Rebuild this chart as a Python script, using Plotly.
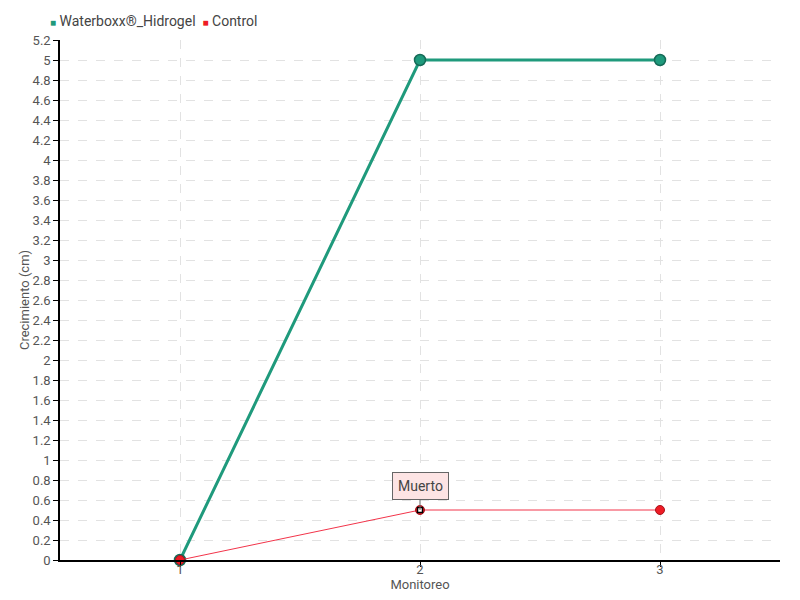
import plotly.graph_objects as go

monitoreo = [1, 2, 3]
hidrogel = [0, 5, 5]
control = [0, 0.5, 0.5]
muerto_idx = 1
series_names = ["Waterboxx®_Hidrogel", "Control"]
y_ticks = [round(i * 0.2, 1) for i in range(27)]
y_labels = [("%g" % v) for v in y_ticks]

FONT = "Roboto, sans-serif"
GREEN = "#1f9a7c"
RED = "#ee1c25"

fig = go.Figure()
fig.add_trace(go.Scatter(
    x=monitoreo, y=hidrogel, name=series_names[0],
    mode="lines+markers", cliponaxis=False,
    line=dict(color=GREEN, width=3),
    marker=dict(color=GREEN, size=11, line=dict(color="#166b58", width=1.5)),
))
fig.add_trace(go.Scatter(
    x=monitoreo, y=control, name=series_names[1],
    mode="lines+markers", cliponaxis=False,
    line=dict(color="#f2344a", width=1),
    marker=dict(color=RED, size=9, line=dict(color="#a8141c", width=1)),
))
fig.add_trace(go.Scatter(
    x=[monitoreo[muerto_idx]], y=[control[muerto_idx]],
    mode="markers", showlegend=False, hoverinfo="skip", cliponaxis=False,
    marker=dict(symbol="square", color="white", size=5, line=dict(color="black", width=1.5)),
))

fig.add_annotation(
    x=monitoreo[muerto_idx], y=control[muerto_idx], text="Muerto",
    showarrow=True, arrowhead=0, arrowcolor="#666", arrowwidth=1,
    ax=0, ay=-24, bgcolor="#fde4e4", bordercolor="#666", borderwidth=1, borderpad=5,
    font=dict(family=FONT, size=14, color="#444"),
)

# compact legend with square keys
legend_text = "&nbsp;&nbsp;".join(
    f'<span style="color:{c};font-size:10px">■</span> {n}'
    for n, c in zip(series_names, [GREEN, RED])
)
fig.add_annotation(
    xref="paper", yref="paper", x=-0.0167, y=1.0365, xanchor="left", yanchor="middle",
    text=legend_text, showarrow=False, font=dict(family=FONT, size=14, color="#444"),
)

fig.update_layout(
    width=800, height=600,
    plot_bgcolor="white", paper_bgcolor="white",
    margin=dict(l=52, r=28, t=32, b=48, autoexpand=False),
    font=dict(family=FONT, size=13, color="#555"),
    showlegend=False,
    xaxis=dict(
        title=dict(text="Monitoreo", standoff=0, font=dict(size=13)),
        range=[0.5, 3.5], tickvals=monitoreo, ticks="outside", ticklen=5, tickcolor="black",
        ticklabelstandoff=-8,
        showline=True, linecolor="black", linewidth=1.5, automargin=False,
        showgrid=True, gridcolor="#e2e2e2", griddash="dash", zeroline=False,
    ),
    yaxis=dict(
        title=dict(text="Crecimiento (cm)", standoff=0, font=dict(size=13)),
        range=[0, 5.2], tickvals=y_ticks, ticktext=y_labels,
        ticks="outside", ticklen=5, tickcolor="black",
        showline=True, linecolor="black", linewidth=1.5, automargin=False,
        showgrid=True, gridcolor="#e2e2e2", griddash="dash", zeroline=False,
    ),
)

fig.write_html("out.html")
